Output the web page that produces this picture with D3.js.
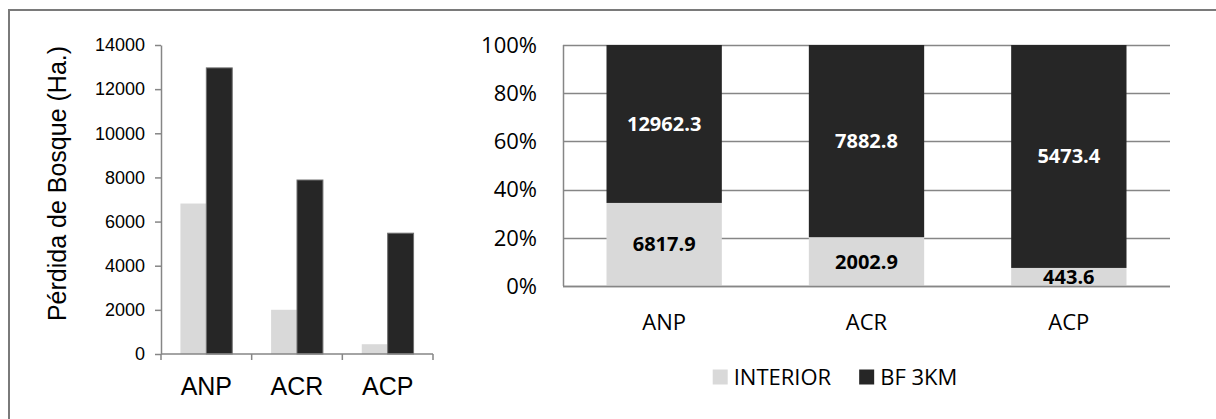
<!DOCTYPE html>
<html>
<head>
<meta charset="utf-8">
<script src="https://cdn.jsdelivr.net/npm/d3@7"></script>
<style>
  html, body { margin: 0; padding: 0; background: #fff; }
  svg { display: block; }
</style>
</head>
<body>
<svg id="chart" width="1216" height="419"></svg>
<script>
// Forest loss by area type: interior vs. 3 km buffer
const categories = ["ANP", "ACR", "ACP"];
const seriesNames = ["INTERIOR", "BF 3KM"];
const interior = [6817.9, 2002.9, 443.6];
const bf3km = [12962.3, 7882.8, 5473.4];
const absTicks = [0, 2000, 4000, 6000, 8000, 10000, 12000, 14000];
const pctTicks = [0, 0.2, 0.4, 0.6, 0.8, 1.0];
const yTitle = "Pérdida de Bosque (Ha.)";

const colors = { "INTERIOR": "#d9d9d9", "BF 3KM": "#262626" };
const axisGray = "#868686";

const svg = d3.select("#chart");

// outer frame
svg.append("path")
  .attr("d", "M9,419 V10 H1216")
  .attr("fill", "none")
  .attr("stroke", "#7a7a7a")
  .attr("stroke-width", 2);

const rows = categories.map((c, i) => ({ cat: c, "INTERIOR": interior[i], "BF 3KM": bf3km[i] }));

// ---------- Left: absolute grouped bars ----------
{
  const L = { left: 161, right: 433, top: 45, bottom: 354 };
  const x0 = d3.scaleBand().domain(categories).range([L.left, L.right]);
  const x1 = d3.scaleBand().domain(seriesNames).range([0, x0.bandwidth()]).paddingOuter(0.75);
  const y = d3.scaleLinear().domain([0, 14000]).range([L.bottom, L.top]);

  const g = svg.append("g");

  g.selectAll("g.grp").data(rows).join("g")
    .attr("transform", d => `translate(${x0(d.cat)},0)`)
    .selectAll("rect").data(d => seriesNames.map(s => ({ s, v: d[s] }))).join("rect")
    .attr("x", d => x1(d.s))
    .attr("width", x1.bandwidth())
    .attr("y", d => y(d.v))
    .attr("height", d => y(0) - y(d.v))
    .attr("fill", d => colors[d.s])
    .attr("stroke", d => d.s === "BF 3KM" ? "#6e6e6e" : "none")
    .attr("stroke-width", 1);

  const ya = g.append("g")
    .attr("transform", `translate(${L.left},0)`)
    .call(d3.axisLeft(y).tickValues(absTicks).tickFormat(d3.format("d"))
      .tickSize(6).tickPadding(10).tickSizeOuter(0));
  ya.select(".domain").attr("stroke", axisGray).attr("stroke-width", 1.5);
  ya.selectAll(".tick line").attr("stroke", axisGray).attr("stroke-width", 1.5);
  ya.selectAll("text")
    .attr("font-family", "Liberation Sans, Arial, sans-serif")
    .attr("font-size", 18).attr("fill", "#000");

  // category axis with ticks at band boundaries
  const xa = g.append("g");
  xa.append("line")
    .attr("x1", L.left).attr("x2", L.right)
    .attr("y1", L.bottom).attr("y2", L.bottom)
    .attr("stroke", axisGray).attr("stroke-width", 1.5);
  const bounds = categories.map(c => x0(c)).concat([L.right]);
  xa.selectAll("line.tk").data(bounds).join("line")
    .attr("class", "tk")
    .attr("x1", d => d).attr("x2", d => d)
    .attr("y1", L.bottom).attr("y2", L.bottom + 6)
    .attr("stroke", axisGray).attr("stroke-width", 1.5);
  xa.selectAll("text").data(categories).join("text")
    .attr("x", d => x0(d) + x0.bandwidth() / 2)
    .attr("y", 395)
    .attr("text-anchor", "middle")
    .attr("font-family", "Liberation Sans, Arial, sans-serif")
    .attr("font-size", 25)
    .attr("fill", "#000")
    .text(d => d);

  g.append("text")
    .attr("transform", `translate(66,${(L.top + 322) / 2}) rotate(-90)`)
    .attr("text-anchor", "middle")
    .attr("font-family", "Liberation Sans, Arial, sans-serif")
    .attr("font-size", 25)
    .attr("fill", "#000")
    .text(yTitle);
}

// ---------- Right: 100% stacked bars ----------
{
  const R = { left: 563, right: 1170, top: 45, bottom: 286 };
  const font = "'Open Sans', sans-serif";
  const x = d3.scaleBand().domain(categories).range([R.left, R.right])
    .paddingInner(0.43).paddingOuter(0.215);
  const y = d3.scaleLinear().domain([0, 1]).range([R.bottom, R.top]);

  const g = svg.append("g");

  // gridlines
  g.selectAll("line.grid").data(pctTicks).join("line")
    .attr("class", "grid")
    .attr("x1", R.left).attr("x2", R.right)
    .attr("y1", d => Math.round(y(d)) + 0.5).attr("y2", d => Math.round(y(d)) + 0.5)
    .attr("stroke", axisGray).attr("stroke-width", 1.5);
  g.append("line")
    .attr("x1", R.left + 0.5).attr("x2", R.left + 0.5)
    .attr("y1", R.top).attr("y2", R.bottom)
    .attr("stroke", axisGray).attr("stroke-width", 1.5);

  const stack = d3.stack().keys(seriesNames).offset(d3.stackOffsetExpand);
  const layers = stack(rows);

  const lg = g.selectAll("g.layer").data(layers).join("g").attr("class", "layer");
  lg.selectAll("rect").data(d => d.map(p => ({ key: d.key, p }))).join("rect")
    .attr("x", d => x(d.p.data.cat))
    .attr("width", x.bandwidth())
    .attr("y", d => y(d.p[1]))
    .attr("height", d => y(d.p[0]) - y(d.p[1]))
    .attr("fill", d => colors[d.key]);

  // x axis line on top of bars
  g.append("line")
    .attr("x1", R.left).attr("x2", R.right)
    .attr("y1", R.bottom + 0.5).attr("y2", R.bottom + 0.5)
    .attr("stroke", axisGray).attr("stroke-width", 1.5);

  lg.selectAll("text").data(d => d.map(p => ({ key: d.key, p }))).join("text")
    .attr("x", d => x(d.p.data.cat) + x.bandwidth() / 2)
    .attr("y", d => (y(d.p[0]) + y(d.p[1])) / 2)
    .attr("dy", "0.35em")
    .attr("text-anchor", "middle")
    .attr("font-family", font)
    .attr("font-weight", "bold")
    .attr("font-size", 20)
    .attr("fill", d => d.key === "BF 3KM" ? "#fff" : "#000")
    .text(d => d3.format(".1f")(d.p.data[d.key]));

  // y labels
  g.selectAll("text.yl").data(pctTicks).join("text")
    .attr("class", "yl")
    .attr("x", 537)
    .attr("y", d => y(d))
    .attr("dy", "0.35em")
    .attr("text-anchor", "end")
    .attr("font-family", font)
    .attr("font-size", 22)
    .attr("fill", "#000")
    .text(d3.format(".0%"));

  // category labels
  g.selectAll("text.xl").data(categories).join("text")
    .attr("class", "xl")
    .attr("x", d => x(d) + x.bandwidth() / 2)
    .attr("y", 322)
    .attr("dy", "0.35em")
    .attr("text-anchor", "middle")
    .attr("font-family", font)
    .attr("font-size", 22)
    .attr("fill", "#000")
    .text(d => d);

  // legend
  const legend = g.append("g");
  const items = legend.selectAll("g").data(seriesNames).join("g");
  items.append("rect").attr("width", 15).attr("height", 15).attr("y", -7.5)
    .attr("fill", d => colors[d]);
  items.append("text").attr("x", 21).attr("dy", "0.35em")
    .attr("font-family", font).attr("font-size", 22).attr("fill", "#000")
    .text(d => d);
  let cx = 0;
  const offsets = [];
  items.each(function () {
    const w = 21 + this.querySelector("text").getComputedTextLength();
    offsets.push(cx);
    cx += w + 28;
  });
  const total = cx - 28;
  const startX = 835 - total / 2;
  items.attr("transform", (d, i) => `translate(${startX + offsets[i]},377)`);
}
</script>
</body>
</html>
